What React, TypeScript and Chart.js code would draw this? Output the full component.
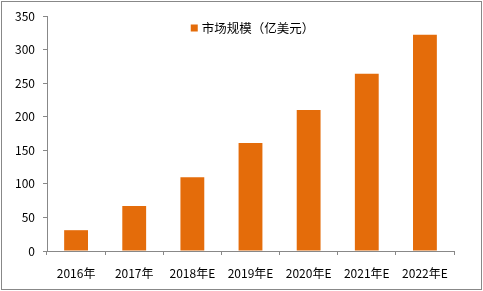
import React, { useEffect, useRef } from "react";
import { Chart, registerables } from "chart.js";

Chart.register(...registerables);

const categories = ["2016年", "2017年", "2018年E", "2019年E", "2020年E", "2021年E", "2022年E"];
const marketSize = [31, 67, 110, 161, 210, 264, 322];
const seriesLabel = "市场规模（亿美元）";
const yTicks = [0, 50, 100, 150, 200, 250, 300, 350];

const FONT = "'Noto Sans CJK SC', 'DejaVu Sans', sans-serif";
const BAR = "#E46C0A";

const borderPlugin = {
  id: "outerBorder",
  afterDraw(chart: any) {
    const ctx = chart.ctx;
    ctx.save();
    ctx.strokeStyle = "#888888";
    ctx.lineWidth = 1;
    ctx.strokeRect(1.5, 1.5, chart.width - 3, chart.height - 3);
    // legend drawn inside plot area, centered near the top
    const ds = chart.data.datasets[0];
    ctx.font = `12.5px ${FONT}`;
    const tw = ctx.measureText(ds.label).width;
    const box = 7;
    const gap = 4;
    const total = box + gap + tw;
    const cx = (chart.chartArea.left + chart.chartArea.right) / 2 + 2;
    const x0 = cx - total / 2;
    const y = chart.chartArea.top + 12;
    ctx.fillStyle = ds.backgroundColor;
    ctx.fillRect(x0, y - box / 2, box, box);
    ctx.fillStyle = "#000";
    ctx.textBaseline = "middle";
    ctx.textAlign = "left";
    ctx.fillText(ds.label, x0 + box + gap, y);
    ctx.restore();
  },
};

export default function App() {
  const ref = useRef<HTMLCanvasElement | null>(null);
  useEffect(() => {
    document.body.style.margin = "0";
    const chart = new Chart(ref.current!, {
      type: "bar",
      data: {
        labels: categories,
        datasets: [
          {
            label: seriesLabel,
            data: marketSize,
            backgroundColor: BAR,
            categoryPercentage: 1,
            barPercentage: 0.41,
          },
        ],
      },
      options: {
        animation: false,
        responsive: false,
        layout: { padding: { left: 0, right: 29, top: 16, bottom: 8 } },
        plugins: {
          legend: { display: false },
          tooltip: { enabled: false },
        },
        scales: {
          x: {
            grid: { display: true, drawOnChartArea: false, drawTicks: true, tickLength: 4, color: "#888", offset: true },
            border: { color: "#888", width: 1 },
            ticks: { color: "#000", font: { family: FONT, size: 12 }, padding: 11, maxRotation: 0, autoSkip: false },
            afterFit: (s: any) => { s.height = 32; },
          },
          y: {
            min: 0,
            max: 350,
            afterBuildTicks: (s: any) => { s.ticks = yTicks.map((v) => ({ value: v })); },
            grid: { display: true, drawOnChartArea: false, drawTicks: true, tickLength: 4, color: "#888" },
            border: { color: "#888", width: 1 },
            ticks: { color: "#000", font: { family: FONT, size: 12 }, padding: 8 },
            afterFit: (s: any) => { s.width = 47; },
          },
        },
      },
      plugins: [borderPlugin],
    });
    return () => chart.destroy();
  }, []);
  return <canvas ref={ref} width={483} height={291} style={{ display: "block" }} />;
}
